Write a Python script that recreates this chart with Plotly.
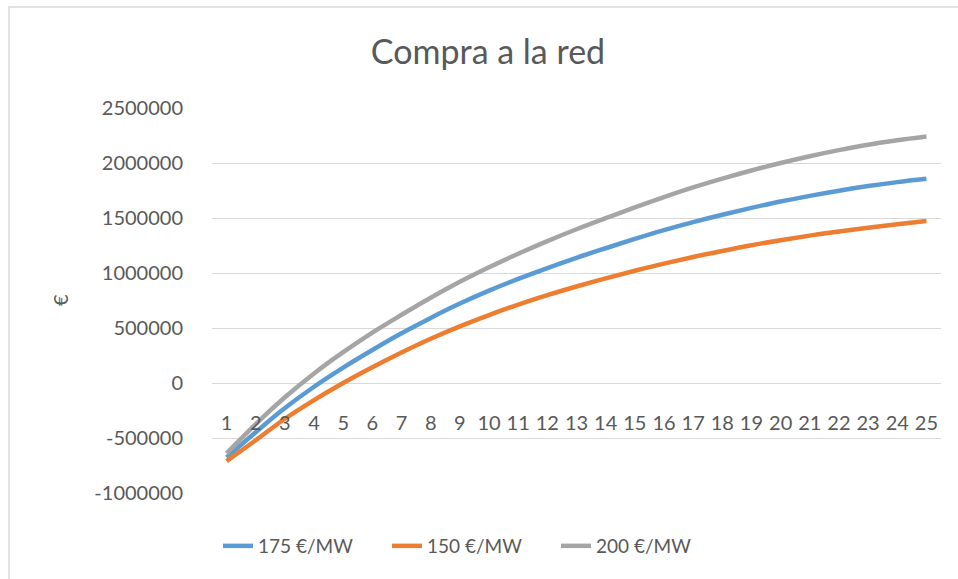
import plotly.graph_objects as go

# Years on the category axis
years = list(range(1, 26))
year_labels = [str(y) for y in years]

# Cumulative balance (€) for each purchase price
serie_175 = [-676000, -447000, -228000, -34000, 140000, 300000, 452000, 592000, 722000, 840000,
             946000, 1045000, 1138000, 1225000, 1310000, 1390000, 1463000, 1530000, 1592000, 1650000,
             1701000, 1748000, 1790000, 1826000, 1856000]
serie_150 = [-710000, -520000, -325000, -155000, 0, 143000, 277000, 402000, 515000, 618000,
             712000, 798000, 877000, 951000, 1020000, 1085000, 1145000, 1200000, 1252000, 1298000,
             1340000, 1378000, 1412000, 1443000, 1472000]
serie_200 = [-640000, -373000, -130000, 87000, 280000, 458000, 620000, 775000, 920000, 1052000,
             1175000, 1290000, 1398000, 1498000, 1596000, 1690000, 1778000, 1858000, 1932000, 2000000,
             2062000, 2117000, 2166000, 2206000, 2240000]

series_names = ["175 €/MW", "150 €/MW", "200 €/MW"]
series_values = [serie_175, serie_150, serie_200]
series_colors = ["#5B9BD5", "#ED7D31", "#A5A5A5"]

y_ticks = [-1000000, -500000, 0, 500000, 1000000, 1500000, 2000000, 2500000]

TEXT = "#595959"
GRID = "#D9D9D9"
FONT = "Lato"

W, H = 958, 579
L, R, T, B = 212, 17, 108, 86
plot_w = W - L - R
plot_h = H - T - B


def px_x(px):
    return (px - L) / plot_w


def px_y(py):
    return (H - B - py) / plot_h


fig = go.Figure()
for name, vals, col in zip(series_names, series_values, series_colors):
    fig.add_trace(go.Scatter(
        x=years, y=vals, name=name, mode="lines",
        line=dict(color=col, width=4.5, shape="spline", smoothing=1.0),
    ))

y_min, y_max = y_ticks[0], y_ticks[-1]
zero_pos = (0 - y_min) / (y_max - y_min)

fig.update_layout(
    width=W, height=H,
    margin=dict(l=L, r=R, t=T, b=B, autoexpand=False),
    paper_bgcolor="white", plot_bgcolor="white",
    font=dict(family=FONT, color=TEXT, size=20),
    title=dict(text="Compra a la red", x=488 / W, xref="container", xanchor="center",
               y=1 - 52 / H, yref="container", yanchor="middle",
               font=dict(family=FONT, size=34, color=TEXT)),
    showlegend=True,
    legend=dict(orientation="h", xref="container", yref="container",
                x=218 / W, xanchor="left", y=1 - 546 / H, yanchor="middle",
                font=dict(family=FONT, size=19, color=TEXT),
                entrywidth=124, entrywidthmode="pixels",
                bgcolor="rgba(0,0,0,0)"),
    xaxis=dict(
        type="linear", range=[0.5, 25.5],
        tickmode="array", tickvals=years, ticktext=year_labels,
        showgrid=False, zeroline=False, showline=False, ticks="",
        anchor="free", position=zero_pos,
        ticklabelstandoff=26,
        tickfont=dict(family=FONT, size=20, color=TEXT),
        fixedrange=True,
    ),
    yaxis=dict(
        range=[y_min, y_max],
        tickmode="array", tickvals=y_ticks, ticktext=[str(v) for v in y_ticks],
        showgrid=True, gridcolor=GRID, gridwidth=1,
        zeroline=False, showline=False, ticks="",
        ticklabelstandoff=28,
        tickfont=dict(family=FONT, size=20, color=TEXT),
        fixedrange=True,
    ),
    annotations=[dict(text="€", xref="paper", yref="paper", x=px_x(60), y=px_y(300),
                      xanchor="center", yanchor="middle",
                      showarrow=False, textangle=-90,
                      font=dict(family=FONT, size=20, color=TEXT))],
    shapes=[dict(type="rect", xref="paper", yref="paper",
                 x0=px_x(9), x1=px_x(1000), y0=px_y(620), y1=px_y(7),
                 line=dict(color=GRID, width=1.5), fillcolor="rgba(0,0,0,0)", layer="below")],
)

fig.write_html("out.html")
